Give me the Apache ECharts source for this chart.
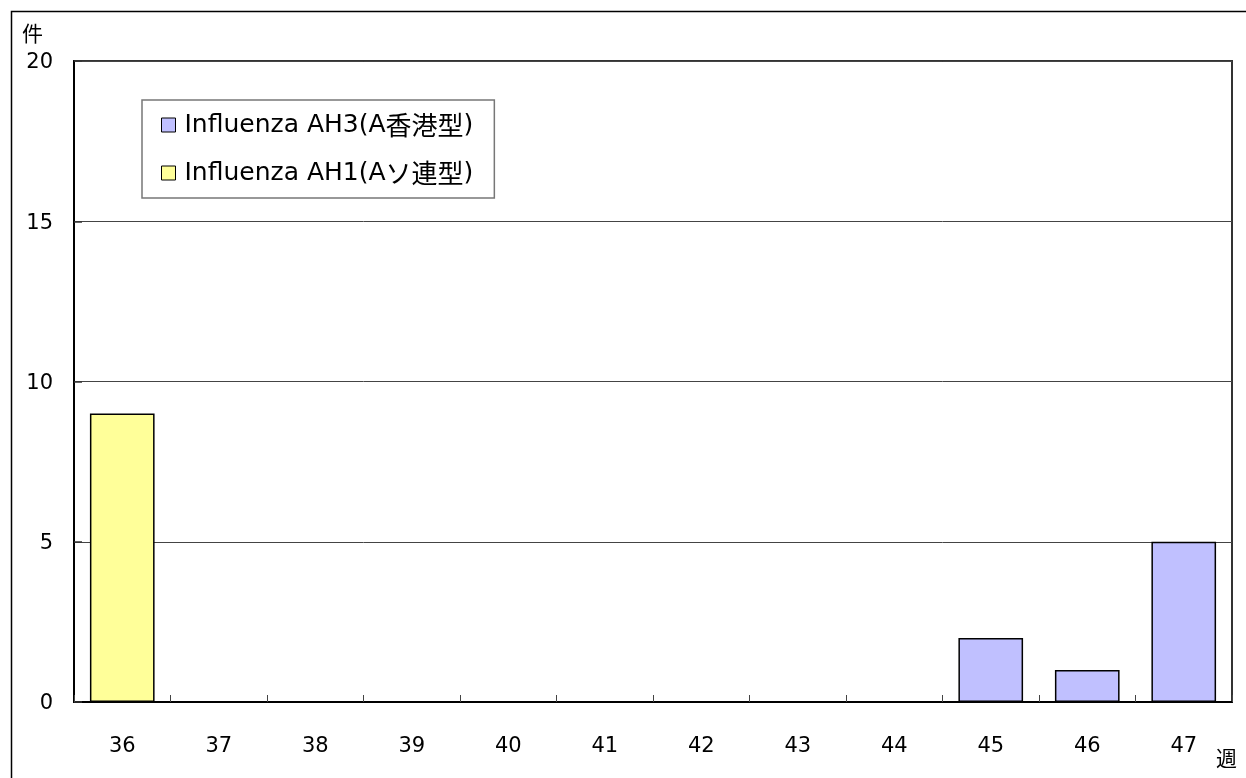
<!DOCTYPE html>
<html>
<head>
<meta charset="utf-8">
<script src="https://cdn.jsdelivr.net/npm/echarts@6/dist/echarts.min.js"></script>
<style>html,body{margin:0;padding:0;background:#fff;}#c{width:1246px;height:778px;}</style>
</head>
<body>
<div id="c"></div>
<script>
var weeks = ['36','37','38','39','40','41','42','43','44','45','46','47'];
var ah3 = [0,0,0,0,0,0,0,0,0,2,1,5];
var ah1 = [9,0,0,0,0,0,0,0,0,0,0,0];
var seriesNames = ['Influenza AH3(A香港型)', 'Influenza AH1(Aソ連型)'];
var yTicks = [0, 5, 10, 15, 20];

var LATIN = '"DejaVu Sans", "Noto Sans CJK JP", sans-serif';
var CJK = '"Noto Sans CJK JP", sans-serif';
function hideZero(arr){ return arr.map(function(v){ return v === 0 ? null : v; }); }
function richName(name){
  return '{s| }' + name.replace(/([\u3040-\u30ff\u4e00-\u9fff]+)|([^\u3040-\u30ff\u4e00-\u9fff]+)/g, function(m, c, l){
    return c ? '{c|' + c + '}' : '{l|' + l + '}';
  });
}

var chart = echarts.init(document.getElementById('c'), null, {renderer:'canvas'});
chart.setOption({
  backgroundColor: '#fff',
  animation: false,
  textStyle: {fontFamily: LATIN},
  grid: {left: 74, top: 61, right: 14, bottom: 76, show: true, borderColor: '#333', borderWidth: 2, backgroundColor: 'transparent'},
  legend: {
    orient: 'vertical',
    left: 142, top: 100,
    padding: [12, 21, 12, 19],
    itemGap: 22,
    itemWidth: 14, itemHeight: 14,
    itemStyle: {borderColor: '#000', borderWidth: 1},
    borderColor: '#777', borderWidth: 1.5,
    backgroundColor: '#fff',
    formatter: function(n){ return richName(n); },
    textStyle: {
      color: '#000',
      rich: {
        s: {width: 4, fontSize: 10, lineHeight: 28},
        l: {fontFamily: LATIN, fontSize: 25, color: '#000', lineHeight: 28},
        c: {fontFamily: CJK, fontSize: 26, color: '#000', lineHeight: 28}
      }
    },
    data: [seriesNames[0], seriesNames[1]],
    icon: 'rect'
  },
  xAxis: {
    type: 'category',
    data: weeks,
    axisLine: {lineStyle: {color: '#000', width: 2}},
    axisTick: {show: true, inside: true, length: 7, alignWithLabel: false, lineStyle: {color: '#444', width: 1}},
    axisLabel: {fontFamily: LATIN, fontSize: 21, color: '#000', margin: 34}
  },
  yAxis: {
    type: 'value',
    min: yTicks[0], max: yTicks[yTicks.length-1], interval: 5,
    axisLine: {show: true, lineStyle: {color: '#000', width: 2}},
    axisTick: {show: true, inside: true, length: 8, lineStyle: {color: '#333', width: 1.5}},
    axisLabel: {fontFamily: LATIN, fontSize: 21, color: '#000', margin: 21, verticalAlign: 'top', lineHeight: 4},
    splitLine: {show: true, lineStyle: {color: '#444', width: 1}}
  },
  series: [
    {name: seriesNames[0], type: 'bar', stack: 'all', data: hideZero(ah3), barCategoryGap: '33%',
     itemStyle: {color: '#C0C0FF', borderColor: '#000', borderWidth: 1.5}},
    {name: seriesNames[1], type: 'bar', stack: 'all', data: hideZero(ah1), barCategoryGap: '33%',
     itemStyle: {color: '#FFFF99', borderColor: '#000', borderWidth: 1.5}}
  ],
  graphic: [
    {type: 'rect', left: 9, top: 9, shape: {width: 1400, height: 1000}, style: {fill: 'none', stroke: '#000', lineWidth: 1.5}, silent: true, z: 100},
    {type: 'text', left: 22, top: 23, style: {text: '件', font: '21px ' + CJK, fill: '#000'}},
    {type: 'text', left: 1216, top: 748, style: {text: '週', font: '21px ' + CJK, fill: '#000'}}
  ]
});
</script>
</body>
</html>
